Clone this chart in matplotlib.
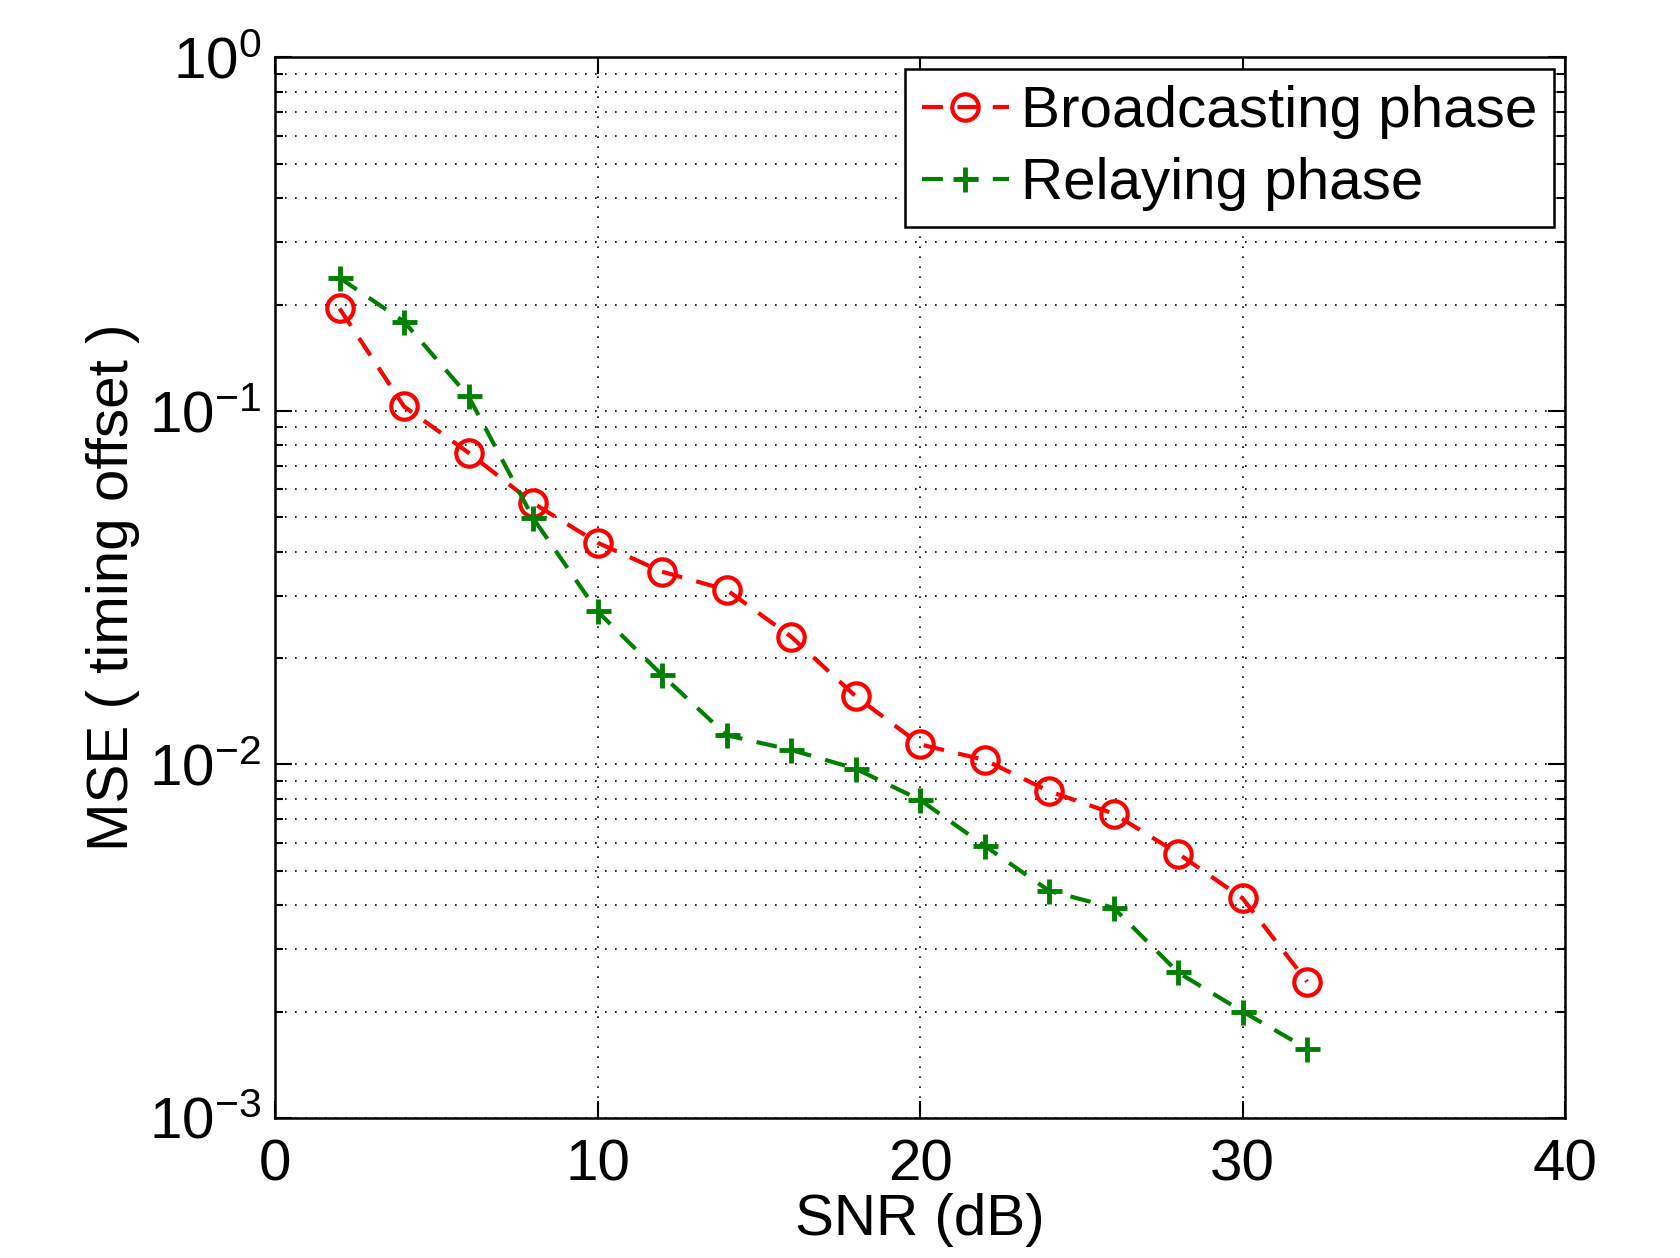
import matplotlib
matplotlib.use("Agg")
import matplotlib.pyplot as plt
from matplotlib.ticker import LogLocator, NullFormatter

plt.rcParams['font.family'] = ['Liberation Sans', 'DejaVu Sans']
plt.rcParams['mathtext.fontset'] = 'custom'
plt.rcParams['mathtext.rm'] = 'Liberation Sans'

# SNR en dB
snr = [2, 4, 6, 8, 10, 12, 14, 16, 18, 20, 22, 24, 26, 28, 30, 32]

# MSE fase de difusion
mse_broadcast = [0.195, 0.103, 0.0762, 0.0549, 0.0424, 0.0351, 0.0312, 0.0230,
                 0.0156, 0.0114, 0.0103, 0.0084, 0.00726, 0.0056, 0.00418, 0.00243]
# MSE fase de retransmision
mse_relay = [0.238, 0.179, 0.110, 0.0498, 0.0271, 0.0179, 0.0121, 0.0110,
             0.00973, 0.00794, 0.00589, 0.00439, 0.00393, 0.00258, 0.00200, 0.00157]

fig = plt.figure(figsize=(16.81, 12.58), dpi=100)
ax = fig.add_axes([0.1636, 0.1113, 0.7675, 0.843])

ax.semilogy(snr, mse_broadcast, color='red', linestyle=(0, (5, 3.5)), linewidth=3,
            marker='o', markersize=19, markerfacecolor='none', markeredgewidth=3,
            label='Broadcasting phase')
ax.semilogy(snr, mse_relay, color='green', linestyle=(0, (5, 3.5)), linewidth=3,
            marker='+', markersize=18, markeredgewidth=3.5,
            label='Relaying phase')

ax.set_xlim(0, 40)
ax.set_ylim(1e-3, 1)
ax.set_xticks([0, 10, 20, 30, 40])
ax.yaxis.set_major_locator(LogLocator(base=10, numticks=10))
ax.yaxis.set_minor_locator(LogLocator(base=10, subs=range(2, 10), numticks=10))
ax.yaxis.set_minor_formatter(NullFormatter())

ax.grid(True, which='major', color='black', linestyle=(0, (1, 5)), linewidth=1.2)
ax.grid(True, which='minor', axis='y', color='black', linestyle=(0, (1, 5)), linewidth=1.2)

ax.tick_params(which='both', direction='in', top=True, right=True, labelsize=42, width=1.5)
ax.tick_params(which='major', length=12)
ax.tick_params(axis='x', which='major', pad=15)
ax.tick_params(axis='y', which='major', pad=10)
ax.tick_params(which='minor', length=6)
for s in ax.spines.values():
    s.set_linewidth(1.8)

ax.set_xlabel('SNR (dB)', fontsize=42, labelpad=0)
ax.set_ylabel('MSE ( timing offset )', fontsize=42, labelpad=6)

leg = ax.legend(loc='upper right', fontsize=42, fancybox=False, edgecolor='black',
                framealpha=1, handlelength=1.5, handletextpad=0.2, borderpad=0.28,
                labelspacing=0.3, borderaxespad=0.2, numpoints=1)
leg.get_frame().set_linewidth(1.8)

plt.savefig('out.png', dpi=100)
